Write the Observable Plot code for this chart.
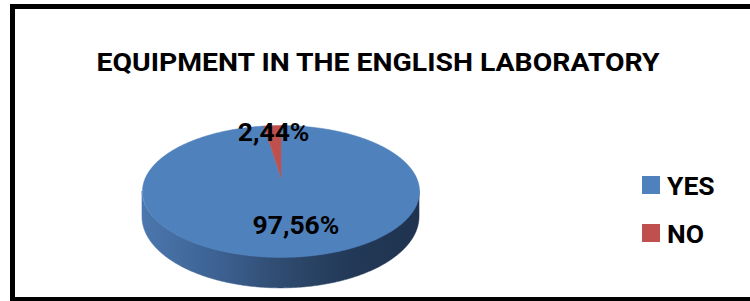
<!DOCTYPE html>
<html>
<head>
<meta charset="utf-8">
<script src="https://cdn.jsdelivr.net/npm/d3@7"></script>
<script src="https://cdn.jsdelivr.net/npm/@observablehq/plot@0.6"></script>
<style>
  html, body { margin: 0; padding: 0; background: #fff; overflow: hidden; }
  #wrap { position: relative; width: 750px; height: 301px; overflow: hidden; font-family: Roboto, "Open Sans", sans-serif; }
  #frame { position: absolute; left: 10px; top: 4px; width: 760px; height: 288px; border: 5px solid #000; }
  #chart { position: absolute; left: 0; top: 0; }
  #legend { position: absolute; left: 642px; top: 161px; }
  #legend .lg-swatch { height: 48px !important; padding: 0 !important; margin: 0 !important; display: flex !important; align-items: center !important; }
  #legend .lg-swatch svg { margin-right: 7px !important; }
  #legend, #legend * { font-family: Roboto, "Open Sans", sans-serif !important; font-size: 26.5px !important; font-weight: bold !important; color: #000 !important; }
</style>
</head>
<body>
<div id="wrap">
  <div id="frame"></div>
  <div id="chart"></div>
  <div id="legend"></div>
</div>
<script>
// ---- data ----
const title = "EQUIPMENT IN THE ENGLISH LABORATORY";
const categories = ["YES", "NO"];
const values = [97.56, 2.44];
const valueLabels = ["97,56%", "2,44%"];
const colors = ["#4F81BD", "#C0504D"];

// ---- layout (3D perspective pie) ----
const cx = 280.5, R = 135.4, cy = 177, H = 63; // screen mapping of unit disk
const k = 0.212;       // perspective factor
const depth = 0.387;   // pie thickness in y units
const labelRadius = [0.66, 0.844];
const labelDx = [7, 0];

function proj(a, r) {
  const u = r * Math.sin(a), v = r * Math.cos(a);
  const s = 1 / (1 + k * v);
  return {x: u * s, y: v * s, s};
}

const arcs = d3.pie().sort(null).startAngle(0).endAngle(2 * Math.PI)(values);

// top faces
const step = Math.PI / 360;
const faces = arcs.map((arc, i) => {
  const pts = [{x: 0, y: 0}];
  for (let a = arc.startAngle; a < arc.endAngle; a += step) pts.push(proj(a, 1));
  pts.push(proj(arc.endAngle, 1));
  pts.push({x: 0, y: 0});
  return pts;
});

// side band (front half, between silhouette points)
const aRight = Math.acos(-k), aLeft = 2 * Math.PI - aRight;
const side = [];
for (let a = aRight; a <= aLeft + 1e-9; a += step) {
  const p = proj(a, 1);
  side.push({x: p.x, y1: p.y, y2: p.y - depth * p.s});
}

// labels
const labelData = arcs.map((arc, i) => {
  const mid = (arc.startAngle + arc.endAngle) / 2;
  const p = proj(mid, labelRadius[i]);
  return {x: p.x, y: p.y, text: valueLabels[i], dx: labelDx[i]};
});

const font = "Roboto, 'Open Sans', sans-serif";

const marks = [
  Plot.area(side, {x1: "x", y1: "y1", y2: "y2", fill: "url(#sideGrad)", stroke: "url(#sideGrad)", strokeWidth: 0.5}),
  ...faces.map((pts, i) => Plot.line(pts, {x: "x", y: "y", fill: colors[i], stroke: colors[i], strokeWidth: 0.5, curve: "linear"})),
  ...labelData.map(d => Plot.text([d], {x: "x", y: "y", text: "text", dx: d.dx, fontSize: 26.5, fontWeight: "bold", fontFamily: font, fill: "#000"})),
  Plot.text([title], {text: d => d, frameAnchor: "top", lineAnchor: "top", dy: 52, dx: 2.5, fontSize: 26.5, fontWeight: "bold", fontFamily: font, fill: "#000"})
];

const svg = Plot.plot({
  width: 750,
  height: 301,
  margin: 0,
  style: {background: "transparent", overflow: "visible"},
  x: {domain: [-1, 1], range: [cx - R, cx + R], axis: null},
  y: {domain: [-1, 1], range: [cy + H, cy - H], axis: null},
  marks
});

svg.insertAdjacentHTML("afterbegin",
  `<defs><linearGradient id="sideGrad" gradientUnits="userSpaceOnUse" x1="142" y1="0" x2="419" y2="0">
     <stop offset="0" stop-color="#4b77ae"/>
     <stop offset="0.3" stop-color="#3b5f8f"/>
     <stop offset="0.55" stop-color="#2c4769"/>
     <stop offset="0.75" stop-color="#223957"/>
     <stop offset="1" stop-color="#1f3350"/>
   </linearGradient></defs>`);

// stretch title to the reference width (Calibri substitute)
d3.select(svg).selectAll("text").filter(function() { return this.textContent === title; })
  .attr("textLength", 563).attr("lengthAdjust", "spacingAndGlyphs");

document.getElementById("chart").appendChild(svg);

const legend = Plot.legend({
  color: {type: "ordinal", domain: categories, range: colors},
  legend: "swatches",
  columns: 1,
  swatchSize: 18,
  className: "lg"
});
document.getElementById("legend").appendChild(legend);
</script>
</body>
</html>
